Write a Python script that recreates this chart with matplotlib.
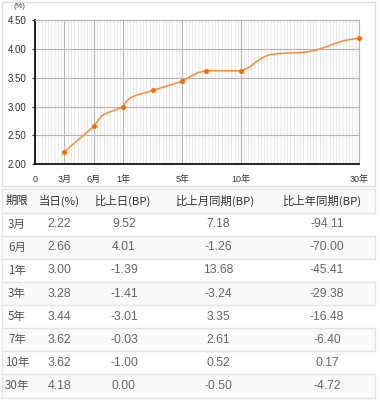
import numpy as np
import matplotlib
matplotlib.use("Agg")
from matplotlib import pyplot as plt
from matplotlib.patches import Rectangle

plt.rcParams['font.family'] = ['Liberation Sans', 'Noto Sans CJK SC', 'DejaVu Sans']

# tenors and today's yields (markers)
tenor_labels = ['3月', '6月', '1年', '3年', '5年', '7年', '10年', '30年']
tenor_years = [0.25, 0.5, 1, 3, 5, 7, 10, 30]
yield_today = [2.22, 2.66, 3.00, 3.28, 3.44, 3.62, 3.62, 4.18]

# changes in BP
chg_day = [9.52, 4.01, -1.39, -1.41, -3.01, -0.03, -1.00, 0.00]
chg_month = [7.18, -1.26, 13.68, -3.24, 3.35, 2.61, 0.52, -0.50]
chg_year = [-94.11, -70.00, -45.41, -29.38, -16.48, -6.40, 0.17, -4.72]

# the full curve
curve_years = [0.25, 0.5, 0.57, 0.63, 0.7, 0.75, 0.89, 1, 1.2, 1.45, 1.9, 2.35, 3, 5, 5.66, 6.36, 7,
               10, 11.5, 12.6, 13.8, 14.9, 16.6, 18.9, 20.8, 22.3, 23.4, 25.6, 27.3, 29.0, 30]
curve_vals = [2.22, 2.66, 2.76, 2.84, 2.88, 2.90, 2.95, 3.00, 3.09, 3.15, 3.20, 3.23, 3.28, 3.44, 3.52,
              3.59, 3.62, 3.62, 3.69, 3.78, 3.86, 3.90, 3.92, 3.93, 3.94, 3.97, 4.00, 4.08, 4.14, 4.17, 4.18]

xticks = [0, 0.25, 0.5, 1, 5, 10, 30]
xtick_labels = ['0', '3月', '6月', '1年', '5年', '10年', '30年']
yticks = [2.0, 2.5, 3.0, 3.5, 4.0, 4.5]

# axis is stretched piecewise like the original chart
brk_years = [0, 0.25, 0.5, 1, 5, 10, 30]
brk_pos = [0, 1, 2, 3, 5, 7, 11]


def fwd(x):
    return np.interp(x, brk_years, brk_pos)


def inv(p):
    return np.interp(p, brk_pos, brk_years)


fig = plt.figure(figsize=(3.8, 4.03), dpi=100)

# background layer in pixel coordinates for frame and table
tab = fig.add_axes([0, 0, 1, 1])
tab.set_xlim(0, 380)
tab.set_ylim(403, 0)
tab.axis('off')

tab.add_patch(Rectangle((2, 2), 373, 184, fill=False, edgecolor='#dddddd', lw=1))

row_top = 188.5
header_h = 24.2
row_h = 23.1
col_x = [17, 59, 123, 216, 323]
headers = ['期限', '当日(%)', '比上日(BP)', '比上月同期(BP)', '比上年同期(BP)']

n = len(tenor_labels)
bottom = row_top + header_h + n * row_h
# row backgrounds
tab.add_patch(Rectangle((2, row_top), 373, header_h, facecolor='#fafafa', edgecolor='none'))
for i in range(n):
    y0 = row_top + header_h + i * row_h
    if i % 2 == 1:
        tab.add_patch(Rectangle((2, y0), 373, row_h, facecolor='#fafafa', edgecolor='none'))
        tab.plot([375, 375], [y0, y0 + row_h], color='#e3e3e3', lw=1)
tab.plot([375, 375], [row_top, row_top + header_h], color='#e3e3e3', lw=1)
tab.plot([2, 2], [row_top, bottom], color='#e3e3e3', lw=1)
for i in range(n + 2):
    y = row_top if i == 0 else row_top + header_h + (i - 1) * row_h
    tab.plot([2, 375], [y, y], color='#e3e3e3', lw=1)

hy = row_top + header_h / 2
for x, h in zip(col_x, headers):
    tab.text(x, hy, h, ha='center', va='center', fontsize=8.2, color='#333333',
             family=['Noto Sans CJK SC', 'DejaVu Sans'])

for i in range(n):
    y = row_top + header_h + (i + 0.5) * row_h
    tab.text(col_x[0], y, tenor_labels[i], ha='center', va='center', fontsize=8.3,
             color='#555555', family=['Noto Sans CJK SC', 'DejaVu Sans'])
    tab.text(59, y, f"{yield_today[i]:.2f}", ha='center', va='center', fontsize=8.7, color='#666666')
    tab.text(124, y, f"{chg_day[i]:.2f}", ha='center', va='center', fontsize=8.7, color='#666666')
    tab.text(218, y, f"{chg_month[i]:.2f}", ha='center', va='center', fontsize=8.7, color='#666666')
    tab.text(327, y, f"{chg_year[i]:.2f}", ha='center', va='center', fontsize=8.7, color='#666666')

tab.text(19, 7, '(%)', ha='center', va='center', fontsize=5.5, color='#334466')

# yield curve chart
ax = fig.add_axes([35 / 380, (403 - 164.3) / 403, 324 / 380, 144.3 / 403])
ax.set_xscale('function', functions=(fwd, inv))
ax.set_xlim(0, 30)
ax.set_ylim(2.0, 4.5)

minor = inv(np.arange(0, 11 * 9 + 1) / 9)
ax.set_xticks(minor, minor=True)
ax.set_xticks(xticks)
ax.set_xticklabels(xtick_labels, family=['Liberation Sans', 'Noto Sans CJK SC'])
ax.set_yticks(yticks)
ax.set_yticklabels([f"{v:.2f}" for v in yticks])

ax.grid(True, which='minor', axis='x', color='#ebebeb', lw=0.8)
ax.grid(True, which='major', axis='x', color='#b4b4b4', lw=0.8)
ax.grid(True, which='major', axis='y', color='#b4b4b4', lw=0.8)
ax.set_axisbelow(True)

ax.tick_params(axis='x', which='both', length=0, pad=8, labelsize=6.5, colors='#333333')
ax.tick_params(axis='y', length=2.2, width=0.8, pad=4, labelsize=7, colors='#333333')
for s in ['left', 'bottom']:
    ax.spines[s].set_color('black')
    ax.spines[s].set_linewidth(1.2)
for s in ['top', 'right']:
    ax.spines[s].set_color('#b4b4b4')
    ax.spines[s].set_linewidth(0.8)

ax.plot(curve_years, curve_vals, color='#ff8a33', lw=1.1, zorder=3)
ax.plot(tenor_years, yield_today, 'o', color='#ff6a00', markersize=3.6, mec='none', zorder=4, clip_on=False)

fig.savefig('out.png', dpi=100)
